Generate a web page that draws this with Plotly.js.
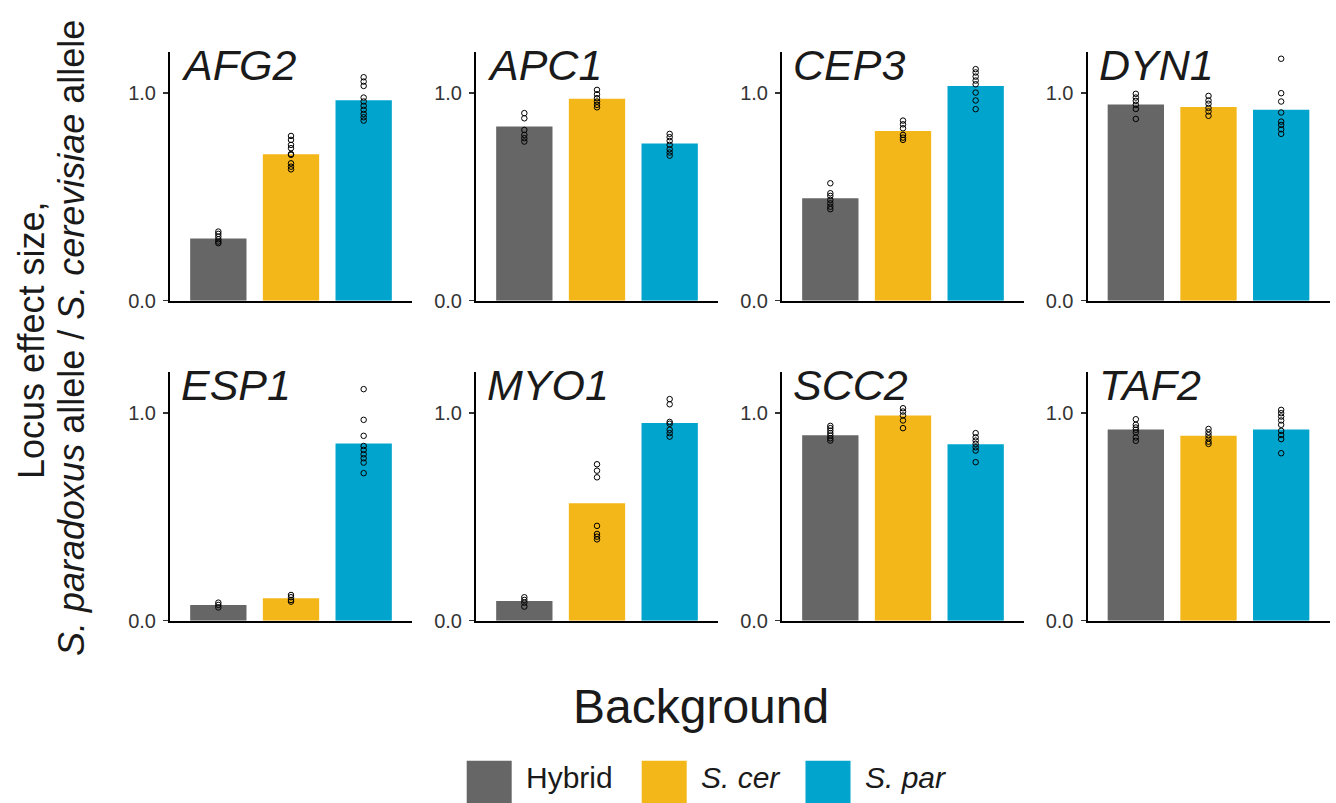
<!DOCTYPE html>
<html>
<head>
<meta charset="utf-8">
<script src="https://cdn.plot.ly/plotly-3.0.1.min.js"></script>
<style>html,body{margin:0;padding:0;background:#fff;}#chart{width:1336px;height:803px;}</style>
</head>
<body>
<div id="chart"></div>
<script>
// ---- data ----
const genes = ['AFG2', 'APC1', 'CEP3', 'DYN1', 'ESP1', 'MYO1', 'SCC2', 'TAF2'];
const backgrounds = ['Hybrid', 'S. cer', 'S. par'];
const legendLabels = ['Hybrid', '<i>S. cer</i>', '<i>S. par</i>'];

const barHybrid = [0.300, 0.839, 0.494, 0.945, 0.076, 0.095, 0.894, 0.921];
const barScer   = [0.706, 0.973, 0.818, 0.934, 0.108, 0.566, 0.989, 0.891];
const barSpar   = [0.966, 0.757, 1.035, 0.920, 0.854, 0.953, 0.850, 0.921];

const ptsHybrid = [
  [0.333, 0.322, 0.309, 0.296, 0.285, 0.277],
  [0.904, 0.879, 0.823, 0.799, 0.783, 0.767],
  [0.566, 0.518, 0.505, 0.486, 0.469, 0.453, 0.441],
  [0.997, 0.979, 0.963, 0.944, 0.924, 0.876],
  [0.087, 0.076, 0.064],
  [0.113, 0.100, 0.087, 0.068],
  [0.939, 0.928, 0.916, 0.904, 0.892, 0.879, 0.868],
  [0.971, 0.944, 0.931, 0.920, 0.907, 0.883, 0.867]
];
const ptsScer = [
  [0.794, 0.775, 0.751, 0.735, 0.707, 0.703, 0.662, 0.646, 0.633],
  [1.016, 0.995, 0.976, 0.960, 0.944, 0.932],
  [0.868, 0.850, 0.831, 0.799, 0.786, 0.775],
  [0.987, 0.965, 0.949, 0.929, 0.912, 0.891],
  [0.124, 0.113, 0.100, 0.092],
  [0.754, 0.723, 0.691, 0.457, 0.418, 0.405, 0.392],
  [1.024, 1.008, 0.989, 0.965, 0.928],
  [0.924, 0.908, 0.894, 0.879, 0.863, 0.852]
];
const ptsSpar = [
  [1.077, 1.056, 1.035, 0.979, 0.960, 0.939, 0.920, 0.900, 0.884, 0.868],
  [0.804, 0.788, 0.770, 0.751, 0.730, 0.714, 0.699],
  [1.116, 1.100, 1.080, 1.061, 1.043, 1.003, 0.965, 0.923],
  [1.166, 1.000, 0.960, 0.907, 0.863, 0.847, 0.826, 0.804],
  [1.116, 0.968, 0.891, 0.842, 0.823, 0.802, 0.783, 0.762, 0.711],
  [1.068, 1.043, 0.958, 0.949, 0.920, 0.904, 0.887],
  [0.904, 0.884, 0.868, 0.852, 0.836, 0.820, 0.764],
  [1.016, 1.000, 0.984, 0.965, 0.944, 0.915, 0.895, 0.875, 0.807]
];

const yTickVals = [0, 1];
const yTickText = ['0.0', '1.0'];

// ---- styling ----
const colors = ['#666666', '#F4B71A', '#00A4CC'];
const W = 1336, H = 803;
const FONT = 'Liberation Sans, Arial, Helvetica, sans-serif';
const colLeft = [170, 476, 782, 1087.5];
const panelW = 242;
const rowTop = [51.7, 371.7];
const panelH = 249;

const px = v => v / W;
const py = v => 1 - v / H;

const data = [];
const layout = {
  width: W, height: H,
  margin: {l: 0, r: 0, t: 0, b: 0},
  paper_bgcolor: '#ffffff',
  plot_bgcolor: 'rgba(0,0,0,0)',
  showlegend: false,
  font: {family: FONT, color: '#1a1a1a'},
  annotations: [],
  shapes: []
};

const barSets = [barHybrid, barScer, barSpar];
const ptSets = [ptsHybrid, ptsScer, ptsSpar];

genes.forEach((g, i) => {
  const r = Math.floor(i / 4), c = i % 4;
  const idx = i + 1;
  const xa = idx === 1 ? 'x' : 'x' + idx;
  const ya = idx === 1 ? 'y' : 'y' + idx;
  const xKey = idx === 1 ? 'xaxis' : 'xaxis' + idx;
  const yKey = idx === 1 ? 'yaxis' : 'yaxis' + idx;

  data.push({
    type: 'bar', x: backgrounds, y: barSets.map(s => s[i]),
    marker: {color: colors, line: {width: 0}},
    width: 0.775, xaxis: xa, yaxis: ya, hoverinfo: 'x+y'
  });
  backgrounds.forEach((b, k) => {
    const pts = ptSets[k][i];
    data.push({
      type: 'scatter', mode: 'markers',
      x: pts.map(() => b), y: pts,
      marker: {symbol: 'circle-open', size: 5.5, color: '#000000', line: {width: 1, color: '#000000'}},
      xaxis: xa, yaxis: ya, hoverinfo: 'y'
    });
  });

  const x0 = colLeft[c], x1 = x0 + panelW;
  const yTop = rowTop[r], yBot = yTop + panelH;
  layout[xKey] = {
    domain: [px(x0), px(x1)], anchor: ya, type: 'category',
    categoryorder: 'array', categoryarray: backgrounds,
    range: [-0.665, 2.665], showticklabels: false, ticks: '',
    showgrid: false, zeroline: false, showline: true, linecolor: '#000000', linewidth: 2,
    fixedrange: true
  };
  layout[yKey] = {
    domain: [py(yBot), py(yTop)], anchor: xa, range: [0, 1.2],
    tickvals: yTickVals, ticktext: yTickText, ticks: 'outside', ticklen: 5, tickwidth: 1.5,
    ticklabelstandoff: 3,
    tickcolor: '#333333', tickfont: {size: 20, color: '#333333', family: FONT},
    showgrid: false, zeroline: false, showline: true, linecolor: '#000000', linewidth: 2,
    fixedrange: true
  };
  layout.annotations.push({
    text: '<i>' + g + '</i>', xref: 'paper', yref: 'paper',
    x: px(x0 + 9), y: py(yTop + 13.5), xanchor: 'left', yanchor: 'middle',
    showarrow: false, font: {size: 43, color: '#1a1a1a', family: FONT}
  });
});

// axis titles
layout.annotations.push({
  text: 'Locus effect size,', xref: 'paper', yref: 'paper',
  x: px(31), y: py(340), xanchor: 'center', yanchor: 'middle', textangle: -90,
  showarrow: false, font: {size: 36, color: '#1a1a1a', family: FONT}
});
layout.annotations.push({
  text: '<i>S. paradoxus</i> allele / <i>S. cerevisiae</i> allele', xref: 'paper', yref: 'paper',
  x: px(71), y: py(338), xanchor: 'center', yanchor: 'middle', textangle: -90,
  showarrow: false, font: {size: 36, color: '#1a1a1a', family: FONT}
});
layout.annotations.push({
  text: 'Background', xref: 'paper', yref: 'paper',
  x: px(701), y: py(706), xanchor: 'center', yanchor: 'middle',
  showarrow: false, font: {size: 48, color: '#1a1a1a', family: FONT}
});

// legend (drawn)
const legBoxX = [466.7, 641.7, 805.5];
legendLabels.forEach((lab, k) => {
  const bx = legBoxX[k];
  layout.shapes.push({
    type: 'rect', xref: 'paper', yref: 'paper',
    x0: px(bx), x1: px(bx + 45), y0: py(805), y1: py(760.7),
    fillcolor: colors[k], line: {width: 0}
  });
  layout.annotations.push({
    text: lab, xref: 'paper', yref: 'paper',
    x: px(bx + 57), y: py(777), xanchor: 'left', yanchor: 'middle',
    showarrow: false, font: {size: 30, color: '#1a1a1a', family: FONT}
  });
});

Plotly.newPlot('chart', data, layout, {displayModeBar: false, staticPlot: true});
</script>
</body>
</html>
